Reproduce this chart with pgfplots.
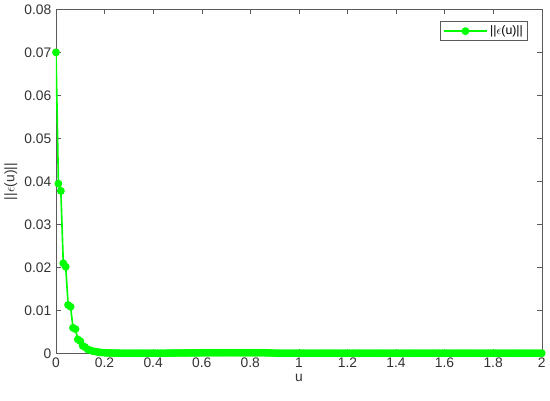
\documentclass[border=0pt]{standalone}
\usepackage{pgfplots}
\pgfplotsset{compat=1.18}
\usepackage{fontspec}
\setmainfont{Liberation Sans}
\definecolor{axgray}{RGB}{90,90,90}
\begin{document}
\fontsize{13}{15}\selectfont
\begin{tikzpicture}
\begin{axis}[
  scale only axis, width=474pt, height=336pt,
  xmin=0, xmax=2, ymin=0, ymax=0.08,
  xtick={0,0.2,...,2.01}, ytick={0,0.01,...,0.081},
  scaled y ticks=false, scaled x ticks=false,
  xticklabels={0,0.2,0.4,0.6,0.8,1,1.2,1.4,1.6,1.8,2},
  yticklabels={0,0.01,0.02,0.03,0.04,0.05,0.06,0.07,0.08},
  /pgf/number format/assume math mode=true,
  tick align=inside, tick pos=both,
  axis line style={axgray}, tick style={axgray, thin},
  major tick length=5pt,
  ticklabel style={font=\fontsize{13.5}{15}\selectfont, text=black!80},
  xlabel={u}, ylabel={||$\epsilon$(u)||},
  label style={font=\fontsize{13.5}{15}\selectfont, text=black!80},
  xlabel style={yshift=3pt},
  ylabel style={yshift=-2pt},
  legend style={draw=axgray, font=\fontsize{12}{14}\selectfont, at={(0.97,0.965)}, anchor=north east, inner sep=2pt},
  legend image code/.code={\draw[mark repeat=2, mark phase=2] plot coordinates {(0cm,0cm) (0.75cm,0cm) (1.5cm,0cm)};},
  legend cell align=left,
]
\addplot[color={rgb,255:red,0;green,255;blue,0}, line width=1.6pt, mark=*, mark size=3pt] coordinates {
(0,0.0700)(0.01,0.0395)(0.02,0.0378)(0.03,0.0210)(0.04,0.0202)(0.05,0.0113)(0.06,0.0109)(0.07,0.0060)(0.08,0.0057)(0.09,0.0033)
(0.10,0.0029)(0.11,0.0018)(0.12,0.0015)(0.13,0.0010)(0.14,0.0008)(0.15,0.0006)(0.16,0.0005)(0.17,0.0004)(0.18,0.0003)(0.19,0.00025)
(0.20,0.0002)(0.21,0.00018)(0.22,0.00016)(0.23,0.00014)(0.24,0.00013)(0.25,0.00012)(0.26,0.00011)(0.27,0.0001)(0.28,0.0001)(0.29,0.0001)
(0.30,0.0001)(0.31,0.0001)(0.32,0.0001)(0.33,0.0001)(0.34,0.0001)(0.35,0.0001)(0.36,0.0001)(0.37,0.0001)(0.38,0.0001)(0.39,0.0001)
(0.40,0.0001)(0.41,0.0001)(0.42,0.0001)(0.43,0.0001)(0.44,0.0001)(0.45,0.0001)(0.46,0.00012)(0.47,0.00012)(0.48,0.00013)(0.49,0.00013)
(0.50,0.00014)(0.51,0.00014)(0.52,0.00015)(0.53,0.00015)(0.54,0.00016)(0.55,0.00016)(0.56,0.00017)(0.57,0.00017)(0.58,0.00018)(0.59,0.00018)
(0.60,0.00019)(0.61,0.00019)(0.62,0.0002)(0.63,0.0002)(0.64,0.0002)(0.65,0.0002)(0.66,0.0002)(0.67,0.0002)(0.68,0.0002)(0.69,0.0002)
(0.70,0.0002)(0.71,0.0002)(0.72,0.0002)(0.73,0.0002)(0.74,0.0002)(0.75,0.0002)(0.76,0.0002)(0.77,0.0002)(0.78,0.0002)(0.79,0.0002)
(0.80,0.0002)(0.81,0.0002)(0.82,0.0002)(0.83,0.0002)(0.84,0.0002)(0.85,0.0002)(0.86,0.00019)(0.87,0.00018)(0.88,0.00016)(0.89,0.00014)
(0.90,0.00012)(0.91,0.0001)(0.92,0.0001)(0.93,0.0001)(0.94,0.0001)(0.95,0.0001)(0.96,0.0001)(0.97,0.0001)(0.98,0.0001)(0.99,0.0001)
(1.00,0.0001)(1.01,0.0001)(1.02,0.0001)(1.03,0.0001)(1.04,0.0001)(1.05,0.0001)(1.06,0.0001)(1.07,0.0001)(1.08,0.0001)(1.09,0.0001)
(1.10,0.0001)(1.11,0.0001)(1.12,0.0001)(1.13,0.0001)(1.14,0.0001)(1.15,0.0001)(1.16,0.0001)(1.17,0.0001)(1.18,0.0001)(1.19,0.0001)
(1.20,0.0001)(1.21,0.0001)(1.22,0.0001)(1.23,0.0001)(1.24,0.0001)(1.25,0.0001)(1.26,0.0001)(1.27,0.0001)(1.28,0.0001)(1.29,0.0001)
(1.30,0.0001)(1.31,0.0001)(1.32,0.0001)(1.33,0.0001)(1.34,0.0001)(1.35,0.0001)(1.36,0.0001)(1.37,0.0001)(1.38,0.0001)(1.39,0.0001)
(1.40,0.0001)(1.41,0.0001)(1.42,0.0001)(1.43,0.0001)(1.44,0.0001)(1.45,0.0001)(1.46,0.0001)(1.47,0.0001)(1.48,0.0001)(1.49,0.0001)
(1.50,0.0001)(1.51,0.0001)(1.52,0.0001)(1.53,0.0001)(1.54,0.0001)(1.55,0.0001)(1.56,0.0001)(1.57,0.0001)(1.58,0.0001)(1.59,0.0001)
(1.60,0.0001)(1.61,0.0001)(1.62,0.0001)(1.63,0.0001)(1.64,0.0001)(1.65,0.0001)(1.66,0.0001)(1.67,0.0001)(1.68,0.0001)(1.69,0.0001)
(1.70,0.0001)(1.71,0.0001)(1.72,0.0001)(1.73,0.0001)(1.74,0.0001)(1.75,0.0001)(1.76,0.0001)(1.77,0.0001)(1.78,0.0001)(1.79,0.0001)
(1.80,0.0001)(1.81,0.0001)(1.82,0.0001)(1.83,0.0001)(1.84,0.0001)(1.85,0.0001)(1.86,0.0001)(1.87,0.0001)(1.88,0.0001)(1.89,0.0001)
(1.90,0.0001)(1.91,0.0001)(1.92,0.0001)(1.93,0.0001)(1.94,0.0001)(1.95,0.0001)(1.96,0.0001)(1.97,0.0001)(1.98,0.0001)(1.99,0.0001)
(2.00,0.0001)
};
\addlegendentry{||$\epsilon$(u)||}
\end{axis}
\path (current bounding box.south) ++(0,-14pt);
\end{tikzpicture}
\end{document}
